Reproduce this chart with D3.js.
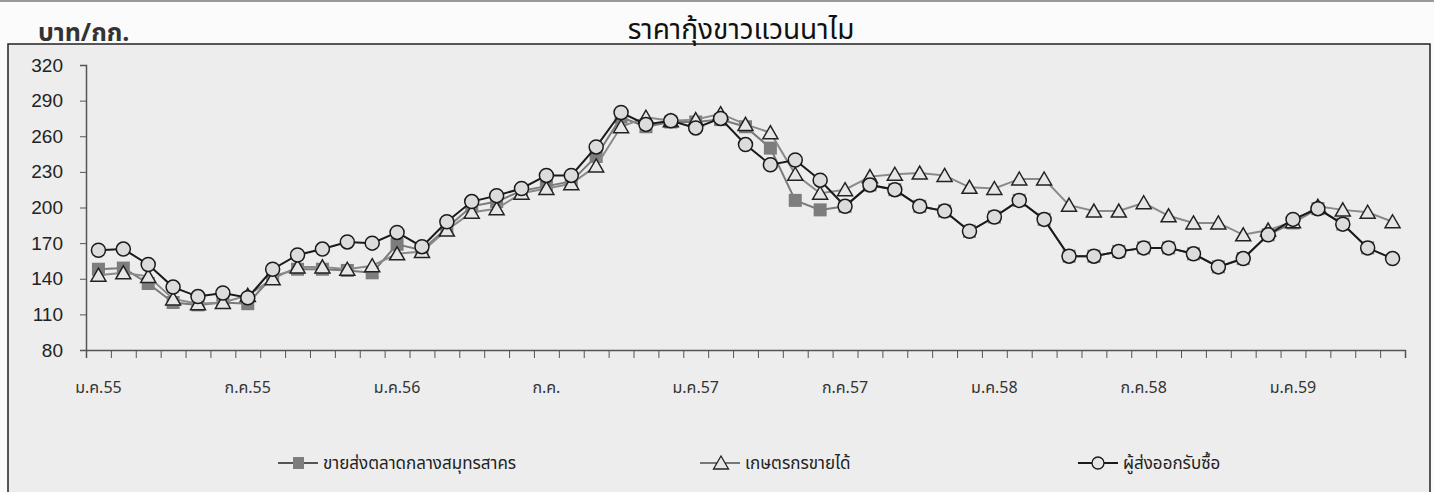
<!DOCTYPE html>
<html>
<head>
<meta charset="utf-8">
<script src="https://cdn.jsdelivr.net/npm/d3@7"></script>
<style>
  body { margin: 0; background: #fbfbfb; }
  svg { display: block; }
</style>
</head>
<body>
<script>
// months ม.ค.55 .. พ.ค.59, one point per month
var monthCount = 53;
var tickLabels = ['ม.ค.55', 'ก.ค.55', 'ม.ค.56', 'ก.ค.', 'ม.ค.57', 'ก.ค.57', 'ม.ค.58', 'ก.ค.58', 'ม.ค.59'];
var tickIndex = [0, 6, 12, 18, 24, 30, 36, 42, 48];
var yTicks = [80, 110, 140, 170, 200, 230, 260, 290, 320];

var wholesale = [148, 149, 136, 120, 118, 120, 119, 142, 148, 148, 147, 145, 169, 164, 183, 201, 205, 214, 218, 222,
  243, 276, 268, 272, 272, 274, 268, 250, 206, 198, 201, 219, 215, 201, 197, 180, 192, 206, 190, 159,
  159, 163, 166, 166, 161, 150, 157, 177, 187, 199, 186, 166, null];
var farmer = [143, 145, 142, 123, 119, 120, 126, 140, 150, 150, 148, 151, 161, 163, 181, 196, 199, 212, 216, 220,
  235, 268, 276, 273, 274, 279, 270, 263, 228, 212, 215, 226, 228, 229, 227, 217, 216, 224, 224, 202,
  197, 197, 204, 193, 187, 187, 177, 181, 188, 201, 198, 196, 188];
var exporter = [164, 165, 152, 133, 125, 128, 124, 148, 160, 165, 171, 170, 179, 167, 188, 205, 210, 216, 227, 227,
  251, 280, 270, 273, 267, 275, 253, 236, 240, 223, 201, 219, 215, 201, 197, 180, 192, 206, 190, 159,
  159, 163, 166, 166, 161, 150, 157, 177, 190, 199, 186, 166, 157];

var seriesNames = ['ขายส่งตลาดกลางสมุทรสาคร', 'เกษตรกรขายได้', 'ผู้ส่งออกรับซื้อ'];

var thaiFont = '"Noto Sans Thai", "Noto Sans", sans-serif';
var numFont = '"Liberation Sans", Arial, sans-serif';

var width = 1434;
var height = 492;

var svg = d3.select('body').append('svg')
  .attr('width', width)
  .attr('height', height);

// paper + chart frame
svg.append('rect').attr('x', 0).attr('y', 0).attr('width', width).attr('height', 2).attr('fill', '#999');
svg.append('rect')
  .attr('x', 8).attr('y', 44)
  .attr('width', 1422).attr('height', 460)
  .attr('fill', '#ededed')
  .attr('stroke', '#222')
  .attr('stroke-width', 1.5);

svg.append('text')
  .attr('x', 741).attr('y', 39)
  .attr('text-anchor', 'middle')
  .style('font-family', thaiFont)
  .style('font-size', '28px')
  .attr('fill', '#111')
  .text('ราคากุ้งขาวแวนนาไม');

svg.append('text')
  .attr('x', 38).attr('y', 41)
  .style('font-family', thaiFont)
  .style('font-size', '25px')
  .style('font-weight', 'bold')
  .attr('fill', '#333')
  .text('บาท/กก.');

var x = d3.scaleLinear().domain([0, monthCount]).range([86, 1405]);
var y = d3.scaleLinear().domain([80, 320]).range([350, 65]);

function px(i) { return x(i + 0.5); }

var yAxis = svg.append('g')
  .attr('transform', 'translate(86,0)')
  .call(d3.axisLeft(y).tickValues(yTicks).tickSize(6).tickPadding(17));
yAxis.selectAll('text')
  .style('font-family', numFont)
  .style('font-size', '19px')
  .attr('fill', '#222');

svg.append('g')
  .attr('transform', 'translate(0,350)')
  .call(d3.axisBottom(x).tickValues(d3.range(0, monthCount + 1)).tickSize(8).tickFormat(''));

svg.selectAll('.domain').attr('stroke', '#555').attr('stroke-width', 1.5);
svg.selectAll('.tick line').attr('stroke', '#555');

svg.append('g').selectAll('text')
  .data(tickLabels)
  .enter().append('text')
    .attr('x', function(d, i) { return px(tickIndex[i]); })
    .attr('y', 393)
    .attr('text-anchor', 'middle')
    .style('font-family', thaiFont)
    .style('font-size', '16px')
    .attr('fill', '#333')
    .text(function(d) { return d; });

var line = d3.line()
  .defined(function(d) { return d != null; })
  .x(function(d, i) { return px(i); })
  .y(function(d) { return y(d); });

function pts(arr) {
  return arr.map(function(v, i) { return {v: v, i: i}; }).filter(function(d) { return d.v != null; });
}

function triPath(cx, cy) {
  return 'M' + cx + ',' + (cy - 7) + 'L' + (cx + 7.5) + ',' + (cy + 6) + 'L' + (cx - 7.5) + ',' + (cy + 6) + 'Z';
}

// wholesale: grey line, grey squares
svg.append('path').datum(wholesale)
  .attr('d', line)
  .attr('fill', 'none')
  .attr('stroke', '#7a7a7a')
  .attr('stroke-width', 2);
svg.append('g').selectAll('rect')
  .data(pts(wholesale))
  .enter().append('rect')
    .attr('x', function(d) { return px(d.i) - 6.5; })
    .attr('y', function(d) { return y(d.v) - 6.5; })
    .attr('width', 13).attr('height', 13)
    .attr('fill', '#7d7d7d');

// farmer: grey line, open triangles
svg.append('path').datum(farmer)
  .attr('d', line)
  .attr('fill', 'none')
  .attr('stroke', '#8a8a8a')
  .attr('stroke-width', 2);
svg.append('g').selectAll('path')
  .data(pts(farmer))
  .enter().append('path')
    .attr('d', function(d) { return triPath(px(d.i), y(d.v)); })
    .attr('fill', '#e6e6e6')
    .attr('stroke', '#222')
    .attr('stroke-width', 1.5);

// exporter: black line, open circles
svg.append('path').datum(exporter)
  .attr('d', line)
  .attr('fill', 'none')
  .attr('stroke', '#1a1a1a')
  .attr('stroke-width', 2);
svg.append('g').selectAll('circle')
  .data(pts(exporter))
  .enter().append('circle')
    .attr('cx', function(d) { return px(d.i); })
    .attr('cy', function(d) { return y(d.v); })
    .attr('r', 7)
    .attr('fill', '#dcdcdc')
    .attr('stroke', '#1a1a1a')
    .attr('stroke-width', 1.5);

// legend
var legendX = [278, 700, 1078];
var legendY = 463;
var legend = svg.append('g').selectAll('g')
  .data(seriesNames)
  .enter().append('g')
    .attr('transform', function(d, i) { return 'translate(' + legendX[i] + ',' + legendY + ')'; });

legend.append('line')
  .attr('x1', 0).attr('x2', 40)
  .attr('stroke', function(d, i) { return i === 2 ? '#1a1a1a' : (i === 0 ? '#555' : '#777'); })
  .attr('stroke-width', 2);
legend.filter(function(d, i) { return i === 0; }).append('rect')
  .attr('x', 15).attr('y', -6).attr('width', 11).attr('height', 12).attr('fill', '#7d7d7d');
legend.filter(function(d, i) { return i === 1; }).append('path')
  .attr('d', triPath(21, 0))
  .attr('fill', '#e6e6e6').attr('stroke', '#222').attr('stroke-width', 1.3);
legend.filter(function(d, i) { return i === 2; }).append('circle')
  .attr('cx', 20).attr('cy', 0).attr('r', 6)
  .attr('fill', '#e6e6e6').attr('stroke', '#1a1a1a').attr('stroke-width', 1.3);
legend.append('text')
  .attr('x', 45).attr('y', 6)
  .style('font-family', thaiFont)
  .style('font-size', '17px')
  .attr('fill', '#222')
  .text(function(d) { return d; });
</script>
</body>
</html>
